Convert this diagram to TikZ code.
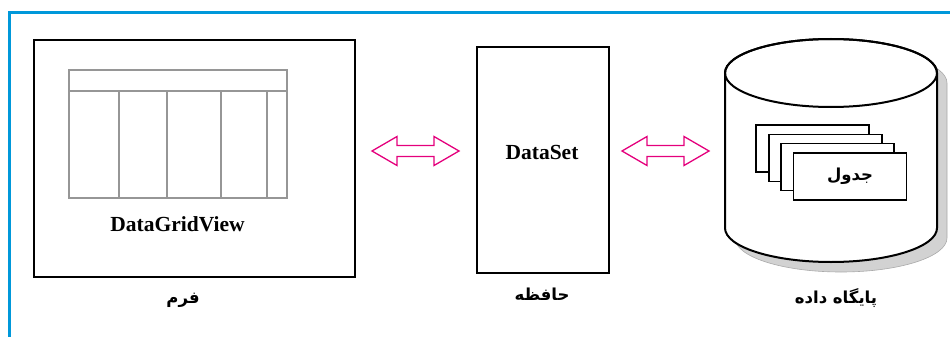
\documentclass[tikz,border=0pt]{standalone}
\usepackage{fontspec}
\setmainfont{Liberation Serif}
\newfontfamily\arabicfont[Script=Arabic]{DejaVu Sans}
\TeXXeTstate=1
\usetikzlibrary{calc}
\definecolor{frameblue}{RGB}{0,152,218}
\definecolor{arrmag}{RGB}{228,0,124}
\definecolor{gridgray}{RGB}{150,150,150}
\definecolor{shadowfill}{RGB}{210,210,210}
\definecolor{shadowline}{RGB}{170,170,170}
\tikzset{
  box/.style={draw=black, line width=2.2pt, fill=white, inner sep=0pt},
  sheet/.style={draw=black, line width=1.2pt, fill=white, minimum width=113pt, minimum height=47pt, inner sep=0pt},
  gridline/.style={draw=gridgray, line width=2.9pt},
  lat/.style={font=\bfseries\fontsize{21.5}{25}\selectfont},
  fa/.style={font=\arabicfont\bfseries\fontsize{16.5}{20}\selectfont},
  dblarr/.pic={\draw[arrmag, line width=1.3pt, line join=miter]
     (-43.5,0) -- (-18.5,-14.5) -- (-18.5,-5.5) -- (18.5,-5.5) -- (18.5,-14.5)
     -- (43.5,0) -- (18.5,14.5) -- (18.5,5.5) -- (-18.5,5.5) -- (-18.5,14.5) -- cycle;}
}
\begin{document}
\begin{tikzpicture}[x=1pt,y=-1pt]
\useasboundingbox (0,0) rectangle (950,337);
% blue frame
\draw[frameblue, line width=3pt] (9,337) -- (9,12.5) -- (950,12.5);

% form box
\node[box, minimum width=321pt, minimum height=237pt] (form) at (194.5,158.5) {};
% grid
\draw[gridline] (69,70) rectangle (287,198);
\draw[gridline] (69,91) -- (287,91);
\foreach \gx in {119,167,221,267} \draw[gridline] (\gx,91) -- (\gx,198);
\node[lat] (dgv) at (177.5,224) {DataGridView};
\node[fa] (formlbl) at (183,300) {\beginR فرم\endR};

% memory box
\node[box, minimum width=132pt, minimum height=226pt] (mem) at (543,160) {};
\node[lat] (ds) at (542,152) {DataSet};
\node[fa] (memlbl) at (542,294) {\beginR حافظه\endR};

% database cylinder: shadow
\fill[shadowfill, draw=shadowline, line width=0.6pt]
  (735,83) -- (735,238) arc[start angle=180, end angle=360, x radius=106pt, y radius=34pt]
  -- (947,83) arc[start angle=0, end angle=180, x radius=106pt, y radius=34pt] -- cycle;
% body
\draw[line width=2pt, fill=white]
  (725,73) -- (725,228) arc[start angle=180, end angle=360, x radius=106pt, y radius=34pt]
  -- (937,73) arc[start angle=0, end angle=180, x radius=106pt, y radius=34pt] -- cycle;
\draw[line width=2pt] (831,73) ellipse[x radius=106pt, y radius=34pt];
\coordinate (db) at (831,150);
% tables
\node[sheet] (t1) at (812.5,148.5) {};
\node[sheet] (t2) at (825.5,158) {};
\node[sheet] (t3) at (837.5,167) {};
\node[sheet, fa] (t4) at (850,176.5) {\beginR جدول\endR};
\node[fa] (dblbl) at (836,298) {\beginR پایگاه داده\endR};

% arrows
\coordinate (a1) at (415.5,151);
\coordinate (a2) at (665.5,151);
\pic at (a1) {dblarr};
\pic at (a2) {dblarr};
\end{tikzpicture}
\end{document}
